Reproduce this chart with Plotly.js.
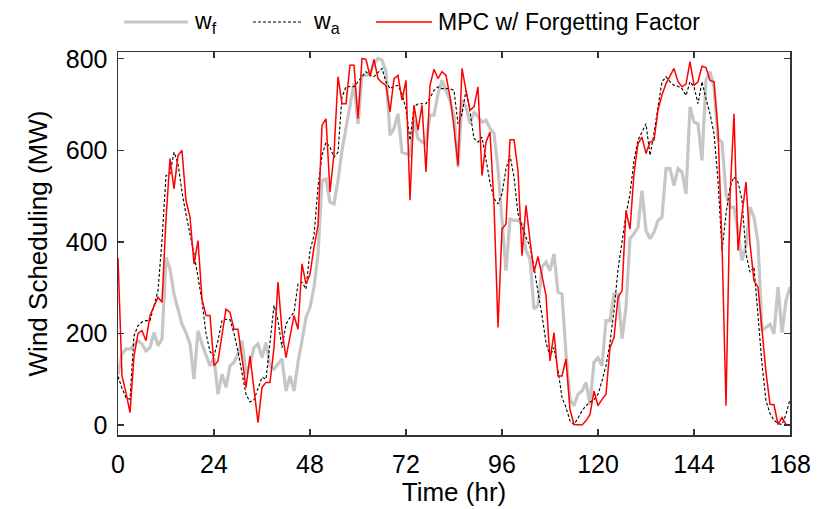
<!DOCTYPE html>
<html>
<head>
<meta charset="utf-8">
<script src="https://cdn.plot.ly/plotly-3.0.1.min.js"></script>
<style>html,body{margin:0;padding:0;background:#fff;}#chart{width:823px;height:509px;}</style>
</head>
<body>
<div id="chart"></div>
<script>
// Hourly values, hour 0..168
const hours = Array.from({length: 169}, (_, i) => i);

const wf = [110,155,166,166,175,184,177,162,169,202,173,188,366,341,286,250,220,202,177,100,
206,177,151,129,147,67,111,82,129,137,155,184,111,133,169,177,147,180,129,122,
133,144,74,107,74,137,184,235,257,301,374,534,538,487,483,534,600,650,700,746,
658,764,764,768,790,801,797,772,633,648,680,596,593,589,666,626,618,615,677,677,
724,753,731,710,677,563,710,695,658,684,673,662,666,648,637,560,447,337,450,447,
447,439,381,363,253,261,345,356,337,374,290,286,155,56,42,67,74,93,45,137,
147,129,228,228,286,286,188,257,407,418,432,512,425,407,421,447,454,560,560,523,
560,553,505,695,662,658,578,753,772,739,626,618,505,476,476,425,359,392,476,454,
399,206,213,220,199,301,202,272,301];

const wa = [106,80,60,56,195,217,225,228,228,260,293,403,545,549,596,571,509,460,420,374,
323,270,200,160,151,184,228,231,230,200,160,111,67,50,55,80,104,100,177,261,
228,169,220,235,246,308,312,297,381,414,520,589,618,607,585,596,717,739,739,739,
750,760,772,764,761,770,779,750,735,740,742,724,690,622,695,702,702,702,715,731,
739,735,735,735,731,658,680,731,684,626,618,629,580,530,495,483,505,560,589,542,
461,435,410,390,345,290,240,180,150,169,120,60,38,9,1,15,31,42,50,55,
67,96,130,180,250,340,400,460,505,578,622,640,658,589,637,695,750,761,750,742,
740,735,720,750,739,702,750,713,680,637,534,381,461,520,542,531,491,374,334,345,
228,133,53,25,10,3,1,23,56];

const mpc = [365,107,70,27,150,200,206,184,239,260,279,268,450,582,516,589,600,490,454,352,
403,275,239,239,129,140,200,253,246,209,209,140,82,151,74,5,82,93,93,169,
312,206,147,191,239,209,352,308,330,388,436,655,669,509,593,761,702,702,786,786,
669,801,799,762,799,757,748,742,684,757,764,710,753,491,699,644,699,553,742,777,
757,772,764,717,650,567,779,731,688,695,739,545,618,640,483,213,428,439,623,623,
556,370,480,403,334,368,326,283,140,202,107,107,144,34,1,0,0,9,23,74,
42,56,67,169,191,279,293,469,428,549,615,629,593,618,622,688,721,746,761,779,
750,739,745,794,742,750,784,781,753,750,644,396,42,498,680,381,461,531,396,315,
301,199,115,45,44,1,16,1,0];

const xTicks = [0,24,48,72,96,120,144,168];
const yTicks = [0,200,400,600,800];

const FONT = 'Arial, "Liberation Sans", sans-serif';
const FS_LEG = 23, FS_TICK = 25, FS_TITLE = 26;

const traces = [
  {x: hours, y: wf, type: 'scatter', mode: 'lines', name: 'w_f',
   line: {color: '#c6c6c6', width: 3.2}, showlegend: false},
  {x: hours, y: wa, type: 'scatter', mode: 'lines', name: 'w_a',
   line: {color: '#000000', width: 1.1, dash: '3px,2px'}, showlegend: false},
  {x: hours, y: mpc, type: 'scatter', mode: 'lines', name: 'MPC w/ Forgetting Factor',
   line: {color: '#ff0000', width: 1.5}, showlegend: false}
];

// manual legend (paper coords)
const L = 118, R = 790, T = 52, B = 435;
const px = x => (x - L) / (R - L);
const py = y => (B - y) / (B - T);
const legY = 22;

const shapes = [
  {type:'line', xref:'paper', yref:'paper', x0:px(124), x1:px(188), y0:py(legY), y1:py(legY),
   line:{color:'#c6c6c6', width:3.2}},
  {type:'line', xref:'paper', yref:'paper', x0:px(253), x1:px(303), y0:py(legY), y1:py(legY),
   line:{color:'#000000', width:1.1, dash:'3px,2px'}},
  {type:'line', xref:'paper', yref:'paper', x0:px(376), x1:px(432), y0:py(legY), y1:py(legY),
   line:{color:'#ff0000', width:1.5}}
];

const annotations = [
  {xref:'paper', yref:'paper', x:px(192), y:py(legY), xanchor:'left', yanchor:'middle',
   text:'w<sub>f</sub>', showarrow:false, font:{family:FONT, size:FS_LEG, color:'#000'}},
  {xref:'paper', yref:'paper', x:px(311), y:py(legY), xanchor:'left', yanchor:'middle',
   text:'w<sub>a</sub>', showarrow:false, font:{family:FONT, size:FS_LEG, color:'#000'}},
  {xref:'paper', yref:'paper', x:px(436), y:py(legY), xanchor:'left', yanchor:'middle',
   text:'MPC w/ Forgetting Factor', showarrow:false, font:{family:FONT, size:FS_LEG, color:'#000'}}
];

const axisCommon = {
  showgrid: false, zeroline: false, showline: true, mirror: 'ticks',
  linecolor: '#333333', linewidth: 1.5, ticks: 'inside', ticklen: 6, tickwidth: 1.2,
  tickcolor: '#333333', tickfont: {family: FONT, size: FS_TICK, color: '#000'}
};

const layout = {
  width: 823, height: 509,
  margin: {l: L, r: 823 - R, t: T, b: 509 - B},
  paper_bgcolor: '#fff', plot_bgcolor: '#fff',
  showlegend: false,
  xaxis: Object.assign({}, axisCommon, {
    range: [0, 168], tickvals: xTicks, ticktext: xTicks.map(String),
    ticklabelstandoff: 6,
    title: {text: 'Time (hr)', font: {family: FONT, size: FS_TITLE, color: '#000'}, standoff: 2}
  }),
  yaxis: Object.assign({}, axisCommon, {
    range: [-22, 815], tickvals: yTicks, ticktext: yTicks.map(String),
    ticklabelstandoff: 4,
    title: {text: 'Wind Scheduling (MW)', font: {family: FONT, size: FS_TITLE, color: '#000'}, standoff: 10}
  }),
  shapes: shapes,
  annotations: annotations
};

Plotly.newPlot('chart', traces, layout, {displayModeBar: false, staticPlot: true});
</script>
</body>
</html>
